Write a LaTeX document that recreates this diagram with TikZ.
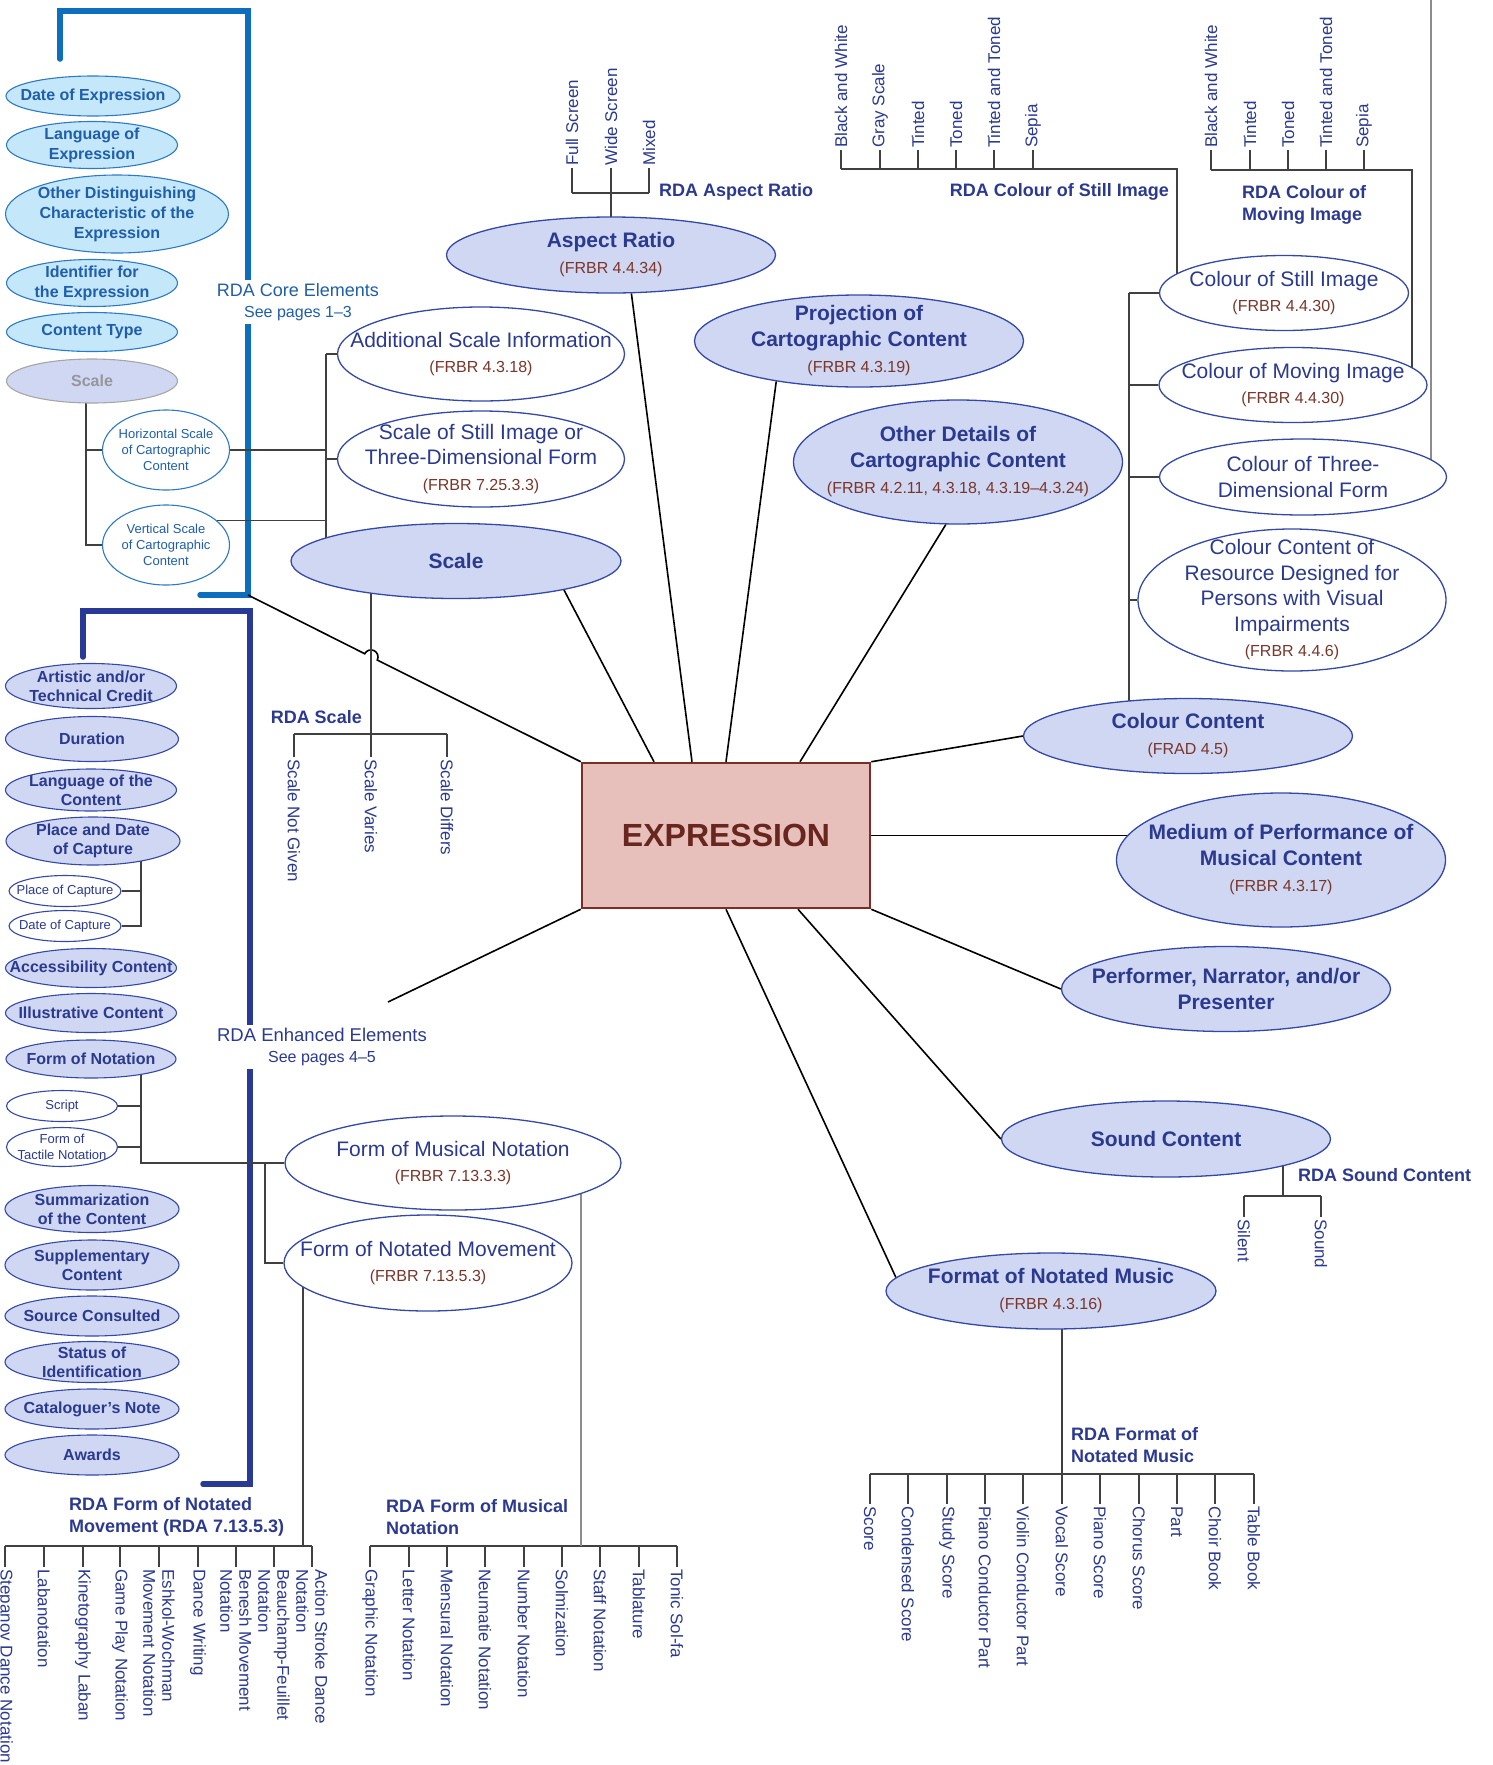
\documentclass[tikz,border=0pt]{standalone}
\usepackage{fontspec}
\setmainfont{Liberation Sans}
\usetikzlibrary{shapes.geometric,backgrounds}

\definecolor{navy}{RGB}{43,57,144}
\definecolor{elline}{RGB}{52,72,168}
\definecolor{elfill}{RGB}{207,215,242}
\definecolor{coretx}{RGB}{30,94,172}
\definecolor{coreln}{RGB}{44,122,198}
\definecolor{corefill}{RGB}{197,231,250}
\definecolor{corebar}{RGB}{12,110,188}
\definecolor{enhbar}{RGB}{40,58,150}
\definecolor{frbrc}{RGB}{122,54,42}
\definecolor{exfill}{RGB}{231,192,187}
\definecolor{exline}{RGB}{122,46,37}
\definecolor{extx}{RGB}{104,38,30}
\definecolor{greytx}{RGB}{150,150,156}

\newcommand\fsz[2]{\fontsize{#1}{#2}\selectfont}
\newcommand\frbr[1]{{\mdseries\fsz{16}{19}\color{frbrc}#1}}

\tikzset{
  coretxt/.style={inner sep=0pt, align=center, text=coretx, font=\bfseries\fsz{16}{20}},
  corewtxt/.style={inner sep=0pt, align=center, text=coretx, font=\fsz{13}{16}},
  greytxt/.style={inner sep=0pt, align=center, text=greytx, font=\bfseries\fsz{16}{20}},
  enhtxt/.style={inner sep=0pt, align=center, text=navy, font=\bfseries\fsz{16}{19}},
  enhwtxt/.style={inner sep=0pt, align=center, text=navy, font=\fsz{13}{16}},
  maintxt/.style={inner sep=0pt, align=center, text=navy, font=\bfseries\fsz{21}{26}},
  whitetxt/.style={inner sep=0pt, align=center, text=navy, font=\fsz{21}{25.5}},
  core/.style n args={3}{ellipse, draw=coreln, fill=corefill, line width=1.1pt, inner sep=0pt,
    minimum width=#1pt, minimum height=#2pt, label={[coretxt]center:{#3}}},
  corew/.style n args={3}{ellipse, draw=coreln, fill=white, line width=1.1pt, inner sep=0pt,
    minimum width=#1pt, minimum height=#2pt, label={[corewtxt]center:{#3}}},
  coregr/.style n args={3}{ellipse, draw=black!35, fill=elfill, line width=1.1pt, inner sep=0pt,
    minimum width=#1pt, minimum height=#2pt, label={[greytxt]center:{#3}}},
  enh/.style n args={3}{ellipse, draw=elline, fill=elfill, line width=1.1pt, inner sep=0pt,
    minimum width=#1pt, minimum height=#2pt, label={[enhtxt]center:{#3}}},
  enhw/.style n args={3}{ellipse, draw=elline, fill=white, line width=1.1pt, inner sep=0pt,
    minimum width=#1pt, minimum height=#2pt, label={[enhwtxt]center:{#3}}},
  mainel/.style n args={3}{ellipse, draw=elline, fill=elfill, line width=1.3pt, inner sep=0pt,
    minimum width=#1pt, minimum height=#2pt, label={[maintxt]center:{#3}}},
  whiteel/.style n args={3}{ellipse, draw=elline, fill=white, line width=1.3pt, inner sep=0pt,
    minimum width=#1pt, minimum height=#2pt, label={[whitetxt]center:{#3}}},
  expbox/.style={draw=exline, fill=exfill, line width=2.5pt, minimum width=288pt,
    minimum height=145pt, inner sep=0pt, text=extx, font=\bfseries\fsz{32}{38}},
  rdah/.style={text=navy, font=\bfseries\fsz{18}{22}, inner sep=0pt, align=left},
  info/.style={fill=white, inner sep=3pt, align=center},
  leafup/.style={rotate=90, anchor=west, inner sep=2pt, text=navy, font=\fsz{17}{19}},
  leafdn/.style={rotate=-90, anchor=west, inner sep=2pt, text=navy, font=\fsz{17}{19}, align=left},
  spoke/.style={line width=1.6pt, draw=black},
  tree/.style={line width=1.3pt, draw=black!75},
  treeg/.style={line width=1.6pt, draw=black!45},
  corebr/.style={line width=5.5pt, draw=corebar, line cap=round},
  enhbr/.style={line width=5.5pt, draw=enhbar, line cap=round},
}

\begin{document}
\begin{tikzpicture}[x=1pt, y=-1pt]
\useasboundingbox (0,0) rectangle (1493,1765);

% core elements
\node[core={174}{40}{Date of Expression}] (doe) at (93,96) {};
\node[core={171}{47}{Language of\\Expression}] (loe) at (92,145) {};
\node[core={223}{78}{Other Distinguishing\\Characteristic of the\\Expression}] (odch) at (117,214) {};
\node[core={171}{47}{Identifier for\\the Expression}] (ide) at (92,283) {};
\node[core={171}{39}{Content Type}] (ctp) at (92,332) {};
\node[coregr={171}{44}{Scale}] (scg) at (92,381) {};
\node[corew={127}{80}{Horizontal Scale\\of Cartographic\\Content}] (hsc) at (166,450) {};
\node[corew={127}{80}{Vertical Scale\\of Cartographic\\Content}] (vsc) at (166,545) {};
\node[info, text=coretx, font=\fsz{18}{21}] (coreinfo) at (298,302) {RDA Core Elements\\\fsz{16}{21}See pages 1--3};

% enhanced elements
\node[enh={171}{45}{Artistic and/or\\Technical Credit}] (art) at (91,686) {};
\node[enh={173}{45}{Duration}] (dur) at (92,739) {};
\node[enh={171}{42}{Language of the\\Content}] (lotc) at (91,790) {};
\node[enh={174}{48}{Place and Date\\of Capture}] (pdc) at (93,841) {};
\node[enhw={112}{31}{Place of Capture}] (pcap) at (65,891) {};
\node[enhw={112}{31}{Date of Capture}] (dcap) at (65,926) {};
\node[enh={171}{39}{Accessibility Content}] (acc) at (91,968) {};
\node[enh={171}{39}{Illustrative Content}] (ill) at (91,1013) {};
\node[enh={170}{38}{Form of Notation}] (fon) at (91,1059) {};
\node[enhw={111}{31}{Script}] (scr) at (62,1106) {};
\node[enhw={111}{39}{Form of\\Tactile Notation}] (tac) at (62,1147) {};
\node[enh={174}{47}{Summarization\\of the Content}] (summ) at (92,1209) {};
\node[enh={174}{50}{Supplementary\\Content}] (supp) at (92,1265) {};
\node[enh={174}{40}{Source Consulted}] (srcc) at (92,1316) {};
\node[enh={174}{41}{Status of\\Identification}] (stid) at (92,1362) {};
\node[enh={174}{40}{Cataloguer’s Note}] (catn) at (92,1409) {};
\node[enh={174}{40}{Awards}] (awd) at (92,1455) {};
\node[info, text=navy, font=\fsz{18.5}{21}] (enhinfo) at (322,1047) {RDA Enhanced Elements\\\fsz{16}{21}See pages 4--5};

% expression and its elements
\node[expbox] (expr) at (726,835.5) {EXPRESSION};
\node[mainel={329}{76}{Aspect Ratio\\\frbr{(FRBR 4.4.34)}}] (asp) at (611,255) {};
\node[whiteel={287}{94}{Additional Scale Information\\\frbr{(FRBR 4.3.18)}}] (asi) at (481,354) {};
\node[whiteel={287}{96}{Scale of Still Image or\\Three-Dimensional Form\\\frbr{(FRBR 7.25.3.3)}}] (ssi) at (481,459) {};
\node[mainel={330}{75}{Scale}] (scl) at (456,561) {};
\node[mainel={329}{92}{Projection of\\Cartographic Content\\\frbr{(FRBR 4.3.19)}}] (proj) at (859,341) {};
\node[mainel={329}{124}{Other Details of\\Cartographic Content\\\frbr{(FRBR 4.2.11, 4.3.18, 4.3.19--4.3.24)}}] (odet) at (958,462) {};
\node[whiteel={249}{75}{Colour of Still Image\\\frbr{(FRBR 4.4.30)}}] (csi) at (1284,293) {};
\node[whiteel={268}{75}{Colour of Moving Image\\\frbr{(FRBR 4.4.30)}}] (cmi) at (1293,385) {};
\node[whiteel={287}{76}{Colour of Three-\\Dimensional Form}] (c3d) at (1303,477) {};
\node[whiteel={308}{142}{Colour Content of\\Resource Designed for\\Persons with Visual\\Impairments\\\frbr{(FRBR 4.4.6)}}] (cvi) at (1292,600) {};
\node[mainel={329}{75}{Colour Content\\\frbr{(FRAD 4.5)}}] (ccn) at (1188,736) {};
\node[mainel={329}{134}{Medium of Performance of\\Musical Content\\\frbr{(FRBR 4.3.17)}}] (med) at (1281,860) {};
\node[mainel={329}{85}{Performer, Narrator, and/or\\Presenter}] (perf) at (1226,989) {};
\node[mainel={329}{76}{Sound Content}] (snd) at (1166,1139) {};
\node[mainel={330}{76}{Format of Notated Music\\\frbr{(FRBR 4.3.16)}}] (fmt) at (1051,1291) {};
\node[whiteel={336}{94}{Form of Musical Notation\\\frbr{(FRBR 7.13.3.3)}}] (fmn) at (453,1163) {};
\node[whiteel={288}{96}{Form of Notated Movement\\\frbr{(FRBR 7.13.5.3)}}] (fnm) at (428,1263) {};

% vocabulary headings
\node[rdah, anchor=west] (rdaasp) at (659,192) {RDA Aspect Ratio};
\node[rdah, anchor=east] (rdacsi) at (1169,192) {RDA Colour of Still Image};
\node[rdah, anchor=west] (rdacmi) at (1242,205) {RDA Colour of\\Moving Image};
\node[rdah, anchor=east] (rdascl) at (362,717) {RDA Scale};
\node[rdah, anchor=west] (rdasnd) at (1298,1175) {RDA Sound Content};
\node[rdah, anchor=west] (rdafmt) at (1071,1445) {RDA Format of\\Notated Music};
\node[rdah, anchor=west] (rdafnm) at (69,1517) {RDA Form of Notated\\Movement (RDA 7.13.5.3)};
\node[rdah, anchor=west] (rdafmn) at (386,1517) {RDA Form of Musical\\Notation};

% vocabulary terms
\foreach \x/\lbl [count=\i] in {572/Full Screen, 611/Wide Screen, 649/Mixed}
  \node[leafup] (asl\i) at (\x,168) {\lbl};
\foreach \x/\lbl [count=\i] in {841/Black and White, 880/Gray Scale, 918/Tinted, 956/Toned,
    994/Tinted and Toned, 1033/Sepia}
  \node[leafup] (csl\i) at (\x,150) {\lbl};
\foreach \x/\lbl [count=\i] in {1211/Black and White, 1250/Tinted, 1288/Toned,
    1326/Tinted and Toned, 1364/Sepia}
  \node[leafup] (cml\i) at (\x,150) {\lbl};
\foreach \x/\lbl [count=\i] in {294/Scale Not Given, 371/Scale Varies, 447/Scale Differs}
  \node[leafdn] (sclf\i) at (\x,757) {\lbl};
\foreach \x/\lbl [count=\i] in {1244/Silent, 1321/Sound}
  \node[leafdn] (sdl\i) at (\x,1217) {\lbl};
\foreach \x/\lbl [count=\i] in {870/Score, 908/Condensed Score, 947/Study Score,
    985/Piano Conductor Part, 1023/Violin Conductor Part, 1062/Vocal Score, 1100/Piano Score,
    1139/Chorus Score, 1177/Part, 1215/Choir Book, 1254/Table Book}
  \node[leafdn] (fml\i) at (\x,1504) {\lbl};
\foreach \x/\lbl [count=\i] in {5/Stepanov Dance Notation, 44/Labanotation, 83/Kinetography Laban,
    120/Game Play Notation, 159/{Eshkol-Wochman\\Movement Notation}, 198/Dance Writing,
    236/{Benesh Movement\\Notation}, 274/{Beauchamp-Feuillet\\Notation},
    312/{Action Stroke Dance\\Notation}}
  \node[leafdn] (nml\i) at (\x,1567) {\lbl};
\foreach \x/\lbl [count=\i] in {370/Graphic Notation, 409/Letter Notation, 447/Mensural Notation,
    485/Neumatie Notation, 524/Number Notation, 562/Solmization, 600/Staff Notation,
    639/Tablature, 677/Tonic Sol-fa}
  \node[leafdn] (mnl\i) at (\x,1567) {\lbl};

\coordinate (corecn) at (248,595);
\coordinate (hopa) at (364.75,653.75);
\coordinate (enhend) at (388,1002);
\coordinate (sgstem) at (86,381);
\coordinate (sclcol) at (326,0);
\coordinate (ncol) at (141,0);
\coordinate (ccol) at (1129,0);
\coordinate (fnsplit) at (265,1163);
\coordinate (c3top) at (1431,0);
\coordinate (aspbar) at (611,193);
\coordinate (csbar) at (1177,169);
\coordinate (cmbar) at (1412,170);
\coordinate (scbar) at (371,734);
\coordinate (sdbar) at (1283,1196);
\coordinate (fmbar) at (1062,1474);
\coordinate (nmbar) at (303,1546);
\coordinate (mnbar) at (581,1546);

\begin{scope}[on background layer]
% brackets
\draw[corebr] (60,59) |- (248,11) -- (corecn) -- (200,595);
\draw[enhbr] (83,657) |- (250,611) -- (250,1484) -- (203,1484);

% spokes
\draw[spoke] (corecn) -- (hopa) arc[start angle=206.7, end angle=386.7, radius=7] -- (expr.north west);
\draw[spoke] (expr.south west) -- (enhend);
\draw[spoke] (scl.-15) -- ([xshift=-72pt]expr.north);
\draw[spoke] (asp.-62) -- ([xshift=-34pt]expr.north);
\draw[spoke] (proj.-154) -- (expr.north);
\draw[spoke] (odet.-101) -- ([xshift=74pt]expr.north);
\draw[spoke] (expr.north east) -- (ccn.west);
\draw[spoke] (expr.east) -- (expr.east -| med);
\draw[spoke] (expr.south east) -- (perf.west);
\draw[spoke] ([xshift=72pt]expr.south) -- (snd.west);
\draw[spoke] (expr.south) -- (fmt.175);

% scale
\draw[tree] (sgstem) |- (vsc.west);
\draw[tree] (sgstem |- hsc) -- (hsc.west);
\draw[tree] (hsc.east) -- (hsc.east -| sclcol);
\draw[tree] (vsc.26) -- (vsc.26 -| sclcol);
\draw[tree] (sclcol |- asi) -- (sclcol |- scl);
\draw[tree] (sclcol |- asi) -- (asi.west);
\draw[tree] (sclcol |- ssi) -- (ssi.west);

% colour
\draw[tree] (ccol |- csi) -- (ccol |- ccn);
\foreach \n in {csi,cmi,c3d,cvi}
  \draw[tree] (ccol |- \n) -- (\n);

% enhanced
\draw[tree] (pdc -| ncol) |- (dcap.east);
\draw[tree] (ncol |- pcap) -- (pcap.east);
\draw[tree] (fon -| ncol) |- (fmn.west);
\draw[tree] (ncol |- scr) -- (scr.east);
\draw[tree] (ncol |- tac) -- (tac.east);
\draw[tree] (fnsplit) |- (fnm.west);

% vocabularies
\draw[tree] (asl1.west |- aspbar) -- (asl3.west |- aspbar);
\draw[tree] (aspbar) -- (aspbar |- asp);
\draw[tree] (csl1.west |- csbar) -- (csbar) -- (csbar |- csi);
\draw[tree] (cml1.west |- cmbar) -- (cmbar) -- (cmbar |- cmi);
\draw[treeg] (c3top) -- (c3top |- c3d);
\draw[tree] (sclf1.west |- scbar) -- (sclf3.west |- scbar);
\draw[tree] (scbar |- scl) -- (scbar);
\draw[tree] (sdl1.west |- sdbar) -- (sdl2.west |- sdbar);
\draw[tree] (sdbar |- snd) -- (sdbar);
\draw[tree] (fml1.west |- fmbar) -- (fml11.west |- fmbar);
\draw[tree] (fmbar |- fmt) -- (fmbar);
\draw[tree] (nml1.west |- nmbar) -- (nml9.west |- nmbar);
\draw[tree] (nmbar |- fnm) -- (nmbar);
\draw[tree] (mnl1.west |- mnbar) -- (mnl9.west |- mnbar);
\draw[treeg] (mnbar |- fmn) -- (mnbar);
\foreach \i in {1,2,3} \draw[tree] (asl\i.west) -- (asl\i.west |- aspbar);
\foreach \i in {1,...,6} \draw[tree] (csl\i.west) -- (csl\i.west |- csbar);
\foreach \i in {1,...,5} \draw[tree] (cml\i.west) -- (cml\i.west |- cmbar);
\foreach \i in {1,2,3} \draw[tree] (sclf\i.west) -- (sclf\i.west |- scbar);
\foreach \i in {1,2} \draw[tree] (sdl\i.west) -- (sdl\i.west |- sdbar);
\foreach \i in {1,...,11} \draw[tree] (fml\i.west) -- (fml\i.west |- fmbar);
\foreach \i in {1,...,9} \draw[tree] (nml\i.west) -- (nml\i.west |- nmbar);
\foreach \i in {1,...,9} \draw[tree] (mnl\i.west) -- (mnl\i.west |- mnbar);
\end{scope}
\end{tikzpicture}
\end{document}
